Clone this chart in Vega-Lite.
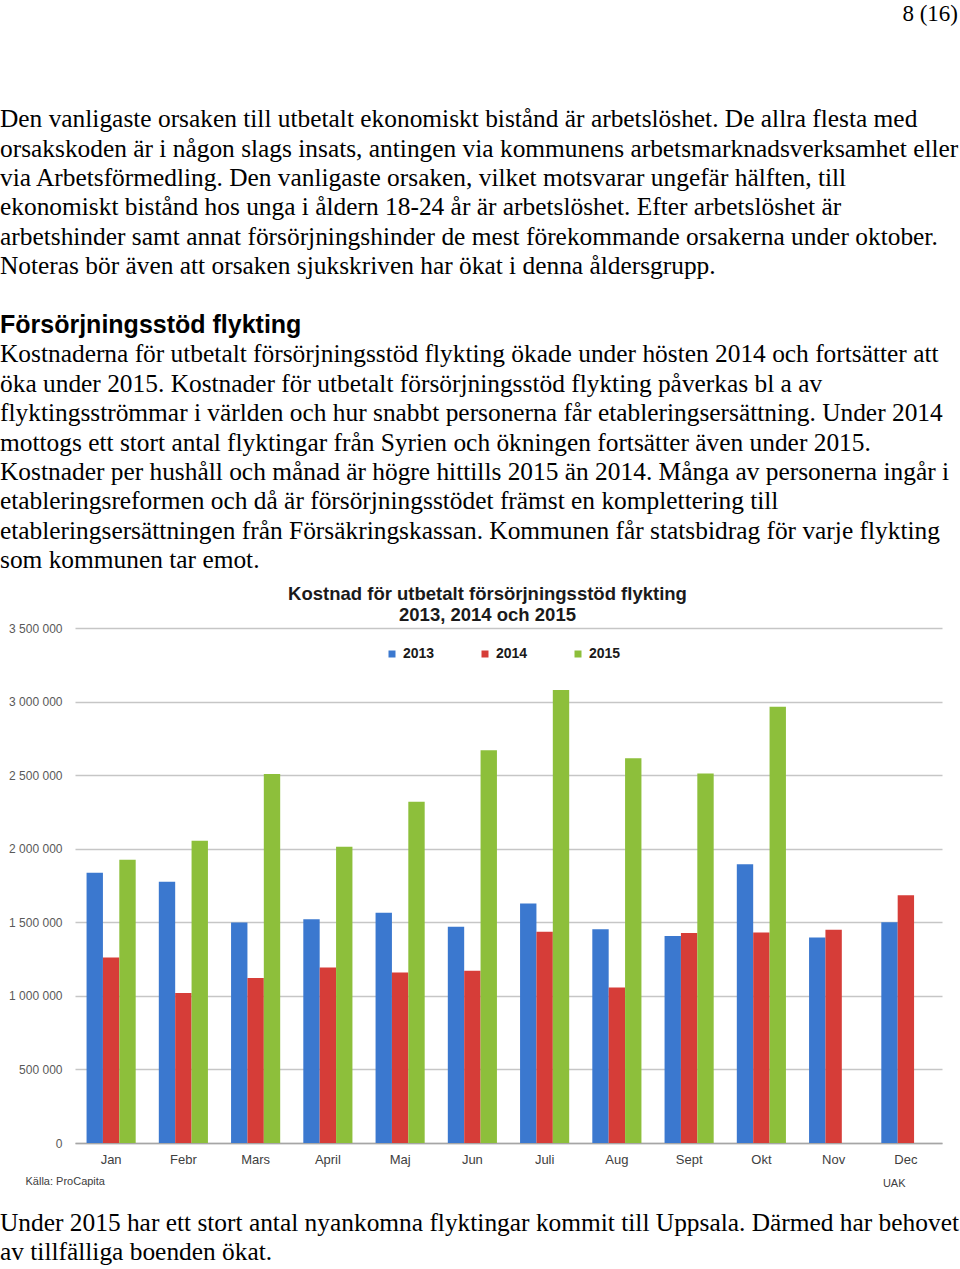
{
  "$schema": "https://vega.github.io/schema/vega-lite/v6.json",
  "background": "white",
  "padding": {"top": 3, "left": 0, "right": 0, "bottom": 0},
  "spacing": 10,
  "title": {"text": "8 (16)", "anchor": "end", "font": "Liberation Serif", "fontSize": 23, "fontWeight": "normal", "color": "#000000", "offset": 5, "dx": -2},
  "config": {
    "view": {"stroke": null},
    "locale": {"number": {"decimal": ",", "thousands": " ", "grouping": [3], "currency": ["", " kr"]}}
  },
  "vconcat": [
    {
      "width": 885,
      "height": 538,
      "data": {"values": [
        {"i": 0, "kind": "body", "text": "Den vanligaste orsaken till utbetalt ekonomiskt bistånd är arbetslöshet. De allra flesta med"},
        {"i": 1, "kind": "body", "text": "orsakskoden är i någon slags insats, antingen via kommunens arbetsmarknadsverksamhet eller"},
        {"i": 2, "kind": "body", "text": "via Arbetsförmedling. Den vanligaste orsaken, vilket motsvarar ungefär hälften, till"},
        {"i": 3, "kind": "body", "text": "ekonomiskt bistånd hos unga i åldern 18-24 år är arbetslöshet. Efter arbetslöshet är"},
        {"i": 4, "kind": "body", "text": "arbetshinder samt annat försörjningshinder de mest förekommande orsakerna under oktober."},
        {"i": 5, "kind": "body", "text": "Noteras bör även att orsaken sjukskriven har ökat i denna åldersgrupp."},
        {"i": 7, "kind": "head", "text": "Försörjningsstöd flykting"},
        {"i": 8, "kind": "body", "text": "Kostnaderna för utbetalt försörjningsstöd flykting ökade under hösten 2014 och fortsätter att"},
        {"i": 9, "kind": "body", "text": "öka under 2015. Kostnader för utbetalt försörjningsstöd flykting påverkas bl a av"},
        {"i": 10, "kind": "body", "text": "flyktingsströmmar i världen och hur snabbt personerna får etableringsersättning. Under 2014"},
        {"i": 11, "kind": "body", "text": "mottogs ett stort antal flyktingar från Syrien och ökningen fortsätter även under 2015."},
        {"i": 12, "kind": "body", "text": "Kostnader per hushåll och månad är högre hittills 2015 än 2014. Många av personerna ingår i"},
        {"i": 13, "kind": "body", "text": "etableringsreformen och då är försörjningsstödet främst en komplettering till"},
        {"i": 14, "kind": "body", "text": "etableringsersättningen från Försäkringskassan. Kommunen får statsbidrag för varje flykting"},
        {"i": 15, "kind": "body", "text": "som kommunen tar emot."}
      ]},
      "encoding": {
        "x": {"datum": 0, "type": "quantitative", "scale": {"domain": [0, 1], "range": [-75, 885]}, "axis": null},
        "y": {"field": "i", "type": "quantitative", "scale": {"domain": [-3, 15.3], "reverse": true, "nice": false, "zero": false}, "axis": null},
        "text": {"field": "text"}
      },
      "layer": [
        {
          "transform": [{"filter": "datum.kind === 'body'"}],
          "mark": {"type": "text", "align": "left", "baseline": "middle", "font": "Liberation Serif", "fontSize": 25.4, "color": "#000000"}
        },
        {
          "transform": [{"filter": "datum.kind === 'head'"}],
          "mark": {"type": "text", "align": "left", "baseline": "middle", "font": "Liberation Sans", "fontSize": 25, "fontWeight": "bold", "color": "#000000"}
        }
      ]
    },
    {
      "width": 867,
      "height": 515,
      "title": {"text": ["Kostnad för utbetalt försörjningsstöd flykting", "2013, 2014 och 2015"], "font": "Liberation Sans", "fontSize": 18.5, "fontWeight": "bold", "color": "#1a1a1a", "anchor": "middle", "dx": -21, "offset": -2, "lineHeight": 21},
      "data": {"values": [
        {"month": "Jan", "year": "2013", "value": 1836000},
        {"month": "Jan", "year": "2014", "value": 1261000},
        {"month": "Jan", "year": "2015", "value": 1925000},
        {"month": "Febr", "year": "2013", "value": 1775000},
        {"month": "Febr", "year": "2014", "value": 1020000},
        {"month": "Febr", "year": "2015", "value": 2054000},
        {"month": "Mars", "year": "2013", "value": 1499000},
        {"month": "Mars", "year": "2014", "value": 1122000},
        {"month": "Mars", "year": "2015", "value": 2507000},
        {"month": "April", "year": "2013", "value": 1521000},
        {"month": "April", "year": "2014", "value": 1193000},
        {"month": "April", "year": "2015", "value": 2013000},
        {"month": "Maj", "year": "2013", "value": 1564000},
        {"month": "Maj", "year": "2014", "value": 1159000},
        {"month": "Maj", "year": "2015", "value": 2319000},
        {"month": "Jun", "year": "2013", "value": 1469000},
        {"month": "Jun", "year": "2014", "value": 1170000},
        {"month": "Jun", "year": "2015", "value": 2670000},
        {"month": "Juli", "year": "2013", "value": 1628000},
        {"month": "Juli", "year": "2014", "value": 1435000},
        {"month": "Juli", "year": "2015", "value": 3078000},
        {"month": "Aug", "year": "2013", "value": 1453000},
        {"month": "Aug", "year": "2014", "value": 1057000},
        {"month": "Aug", "year": "2015", "value": 2614000},
        {"month": "Sept", "year": "2013", "value": 1406000},
        {"month": "Sept", "year": "2014", "value": 1428000},
        {"month": "Sept", "year": "2015", "value": 2512000},
        {"month": "Okt", "year": "2013", "value": 1895000},
        {"month": "Okt", "year": "2014", "value": 1431000},
        {"month": "Okt", "year": "2015", "value": 2965000},
        {"month": "Nov", "year": "2013", "value": 1397000},
        {"month": "Nov", "year": "2014", "value": 1449000},
        {"month": "Dec", "year": "2013", "value": 1501000},
        {"month": "Dec", "year": "2014", "value": 1684000}
      ]},
      "mark": {"type": "bar", "strokeWidth": 0},
      "encoding": {
        "x": {
          "field": "month", "type": "nominal",
          "sort": ["Jan", "Febr", "Mars", "April", "Maj", "Jun", "Juli", "Aug", "Sept", "Okt", "Nov", "Dec"],
          "scale": {"paddingInner": 0.32, "paddingOuter": 0.16},
          "axis": {
            "title": "UAK", "titleX": 830, "titleY": 40, "titleAlign": "right", "titleBaseline": "middle", "titleAnchor": null,
            "titleFont": "Liberation Sans", "titleFontSize": 11, "titleFontWeight": "normal", "titleColor": "#404040",
            "labelAngle": 0, "ticks": false, "labelPadding": 10, "labelFont": "Liberation Sans", "labelFontSize": 13, "labelColor": "#404040",
            "domainColor": "#a6a6a6", "domainWidth": 1.5, "grid": false
          }
        },
        "xOffset": {"field": "year", "type": "nominal", "scale": {"domain": ["2013", "2014", "2015"], "paddingInner": 0, "paddingOuter": 0}},
        "y": {
          "field": "value", "type": "quantitative",
          "scale": {"domain": [0, 3500000], "nice": false},
          "axis": {
            "values": [0, 500000, 1000000, 1500000, 2000000, 2500000, 3000000, 3500000],
            "format": ",d",
            "title": "Källa: ProCapita", "titleAngle": 0, "titleX": -50, "titleY": 553, "titleAlign": "left", "titleBaseline": "middle",
            "titleFont": "Liberation Sans", "titleFontSize": 11, "titleFontWeight": "normal", "titleColor": "#404040",
            "labelFont": "Liberation Sans", "labelFontSize": 12, "labelColor": "#595959", "labelPadding": 13,
            "ticks": false, "domain": false, "grid": true, "gridColor": "#c6c6c6", "gridWidth": 1.5, "minExtent": 75
          }
        },
        "color": {
          "field": "year", "type": "nominal",
          "scale": {"domain": ["2013", "2014", "2015"], "range": ["#3b78cf", "#d63d38", "#8dbf3b"]},
          "legend": {
            "title": null, "orient": "none", "legendX": 310, "legendY": 616, "direction": "horizontal", "columns": 3,
            "symbolType": "square", "symbolSize": 49, "symbolStrokeWidth": 0,
            "labelFont": "Liberation Sans", "labelFontSize": 14, "labelFontWeight": "bold", "labelColor": "#1a1a1a",
            "columnPadding": 43, "padding": 0, "labelOffset": 4
          }
        }
      }
    },
    {
      "width": 885,
      "height": 65.25,
      "data": {"values": [
        {"i": 0, "text": "Under 2015 har ett stort antal nyankomna flyktingar kommit till Uppsala. Därmed har behovet"},
        {"i": 1, "text": "av tillfälliga boenden ökat."}
      ]},
      "mark": {"type": "text", "align": "left", "baseline": "middle", "font": "Liberation Serif", "fontSize": 25.4, "color": "#000000"},
      "encoding": {
        "x": {"datum": 0, "type": "quantitative", "scale": {"domain": [0, 1], "range": [-75, 885]}, "axis": null},
        "y": {"field": "i", "type": "quantitative", "scale": {"domain": [-0.85, 1.4], "reverse": true, "nice": false, "zero": false}, "axis": null},
        "text": {"field": "text"}
      }
    }
  ]
}
